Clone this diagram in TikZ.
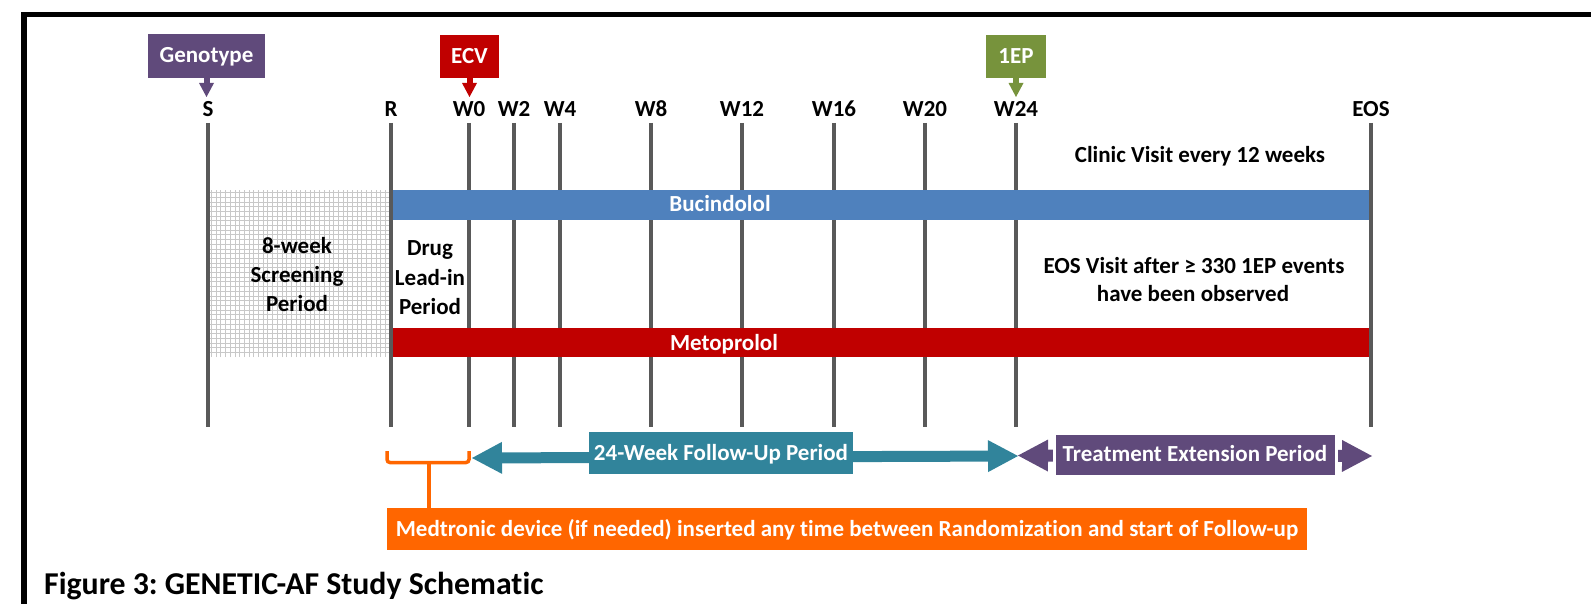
\documentclass[tikz,border=0pt]{standalone}
\usepackage{fontspec}
\setmainfont{Carlito}[Ligatures=NoCommon]
\frenchspacing
\usetikzlibrary{arrows.meta}
\definecolor{bucC}{HTML}{4F81BD}
\definecolor{metC}{HTML}{C00000}
\definecolor{genoC}{HTML}{604A7B}
\definecolor{epC}{HTML}{77933C}
\definecolor{fuC}{HTML}{31849B}
\definecolor{orC}{HTML}{FF6600}
\definecolor{tickC}{HTML}{595959}
\definecolor{gridC}{HTML}{C8C8C8}
\begin{document}
\begin{tikzpicture}[x=1pt,y=-1pt,
  every node/.style={font=\bfseries\fontsize{23}{29}\selectfont, inner sep=0pt},
  txt/.style={anchor=base, text=black},
  wtxt/.style={anchor=base, text=white},
  tickline/.style={draw=tickC, line width=4pt},
  bar/.style={draw=none, minimum width=976pt, minimum height=30pt},
  topbox/.style={text=white, minimum height=44pt, text height=14pt, text depth=0pt},
  marker/.style={line width=6pt, -{Triangle[length=14pt,width=15pt,line width=0pt]}},
  period/.style={text=white, text height=14pt, text depth=0pt},
  dblarrow/.style={{Triangle[length=30pt,width=32pt,line width=0pt]}-{Triangle[length=30pt,width=32pt,line width=0pt]}},
  bracket/.style={draw=orC, line width=3.5pt}
]
\useasboundingbox (0,0) rectangle (1591,604);
\clip (0,0) rectangle (1591,604);
% frame
\draw[line width=5.5pt, line join=miter] (24,640) -- (24,14.5) -- (1640,14.5);

% hatched screening period
\fill[white] (210,190) rectangle (389,357);
\draw[gridC, line width=1pt, step=4.7pt] (210,190) grid (389,357);

% time points
\foreach \n/\x in {S/208, R/391, W0/469, W2/514, W4/560, W8/651, W12/742, W16/834, W20/925, W24/1016, EOS/1371}{
  \node[txt] (lbl\n) at (\x,117) {\n};
  \coordinate (t\n) at (\x,123);
  \coordinate (b\n) at (\x,427);
  \draw[tickline] (t\n) -- (b\n);
}

% treatment bars
\node[bar, fill=bucC] (bucbar) at (881,205) {};
\node[wtxt] (buctxt) at (720,212) {Bucindolol};
\node[bar, fill=metC, minimum height=29pt] (metbar) at (881,342.5) {};
\node[wtxt] (mettxt) at (724,350) {Metoprolol};

% period texts
\node[txt] (scr1) at (297,254) {8-week};
\node[txt] (scr2) at (297,283) {Screening};
\node[txt] (scr3) at (297,312) {Period};
\node[txt] (lead1) at (430,256) {Drug};
\node[txt] (lead2) at (430,285) {Lead-in};
\node[txt] (lead3) at (430,314) {Period};
\node[txt] (clinic) at (1200,162.5) {Clinic Visit every 12 weeks};
\node[txt] (eos1) at (1194,273) {EOS Visit after ≥ 330 1EP events};
\node[txt] (eos2) at (1193,301.5) {have been observed};

% top markers
\node[topbox, fill=genoC, minimum width=117pt] (geno) at (206.5,56) {Genotype};
\coordinate (genoTip) at (206.5,97);
\draw[marker, genoC] (geno.south) -- (genoTip);
\node[topbox, fill=metC, minimum width=59pt, minimum height=43pt] (ecv) at (469.5,56.5) {ECV};
\coordinate (ecvTip) at (469.5,97);
\draw[marker, metC] (ecv.south) -- (ecvTip);
\node[topbox, fill=epC, minimum width=60pt, minimum height=43pt] (ep) at (1016,56.5) {1EP};
\coordinate (epTip) at (1016,97);
\draw[marker, epC] (ep.south) -- (epTip);

% follow-up arrow
\coordinate (fuL) at (472,458);
\coordinate (fuR) at (1018,456);
\draw[dblarrow, fuC, line width=11pt] (fuL) -- (fuR);
\node[period, fill=fuC, minimum width=264pt, minimum height=42pt] (fu) at (721,453) {24-Week Follow-Up Period};

% treatment extension arrow
\coordinate (teL) at (1018,455.5);
\coordinate (teR) at (1372,456);
\draw[dblarrow, genoC, line width=12pt] (teL) -- (teR);
\node[period, fill=genoC, draw=white, line width=3pt, minimum width=282pt, minimum height=43pt] (te) at (1195,454.5) {Treatment Extension Period};

% Medtronic bracket and box
\node[period, fill=orC, minimum width=920pt, minimum height=42pt] (med) at (847,529) {Medtronic device (if needed) inserted any time between Randomization and start of Follow-up};
\coordinate (brL) at (387,451);
\coordinate (brR) at (469,451);
\coordinate (brM) at (429,462.5);
\draw[bracket, rounded corners=3pt] (brL) |- (brR |- brM) -- (brR);
\draw[bracket] (brM) -- (brM |- med.north);

% caption
\node[anchor=base west, font=\bfseries\fontsize{31.8}{36}\selectfont] (cap) at (44,594) {Figure 3: GENETIC-AF Study Schematic};
\end{tikzpicture}
\end{document}
